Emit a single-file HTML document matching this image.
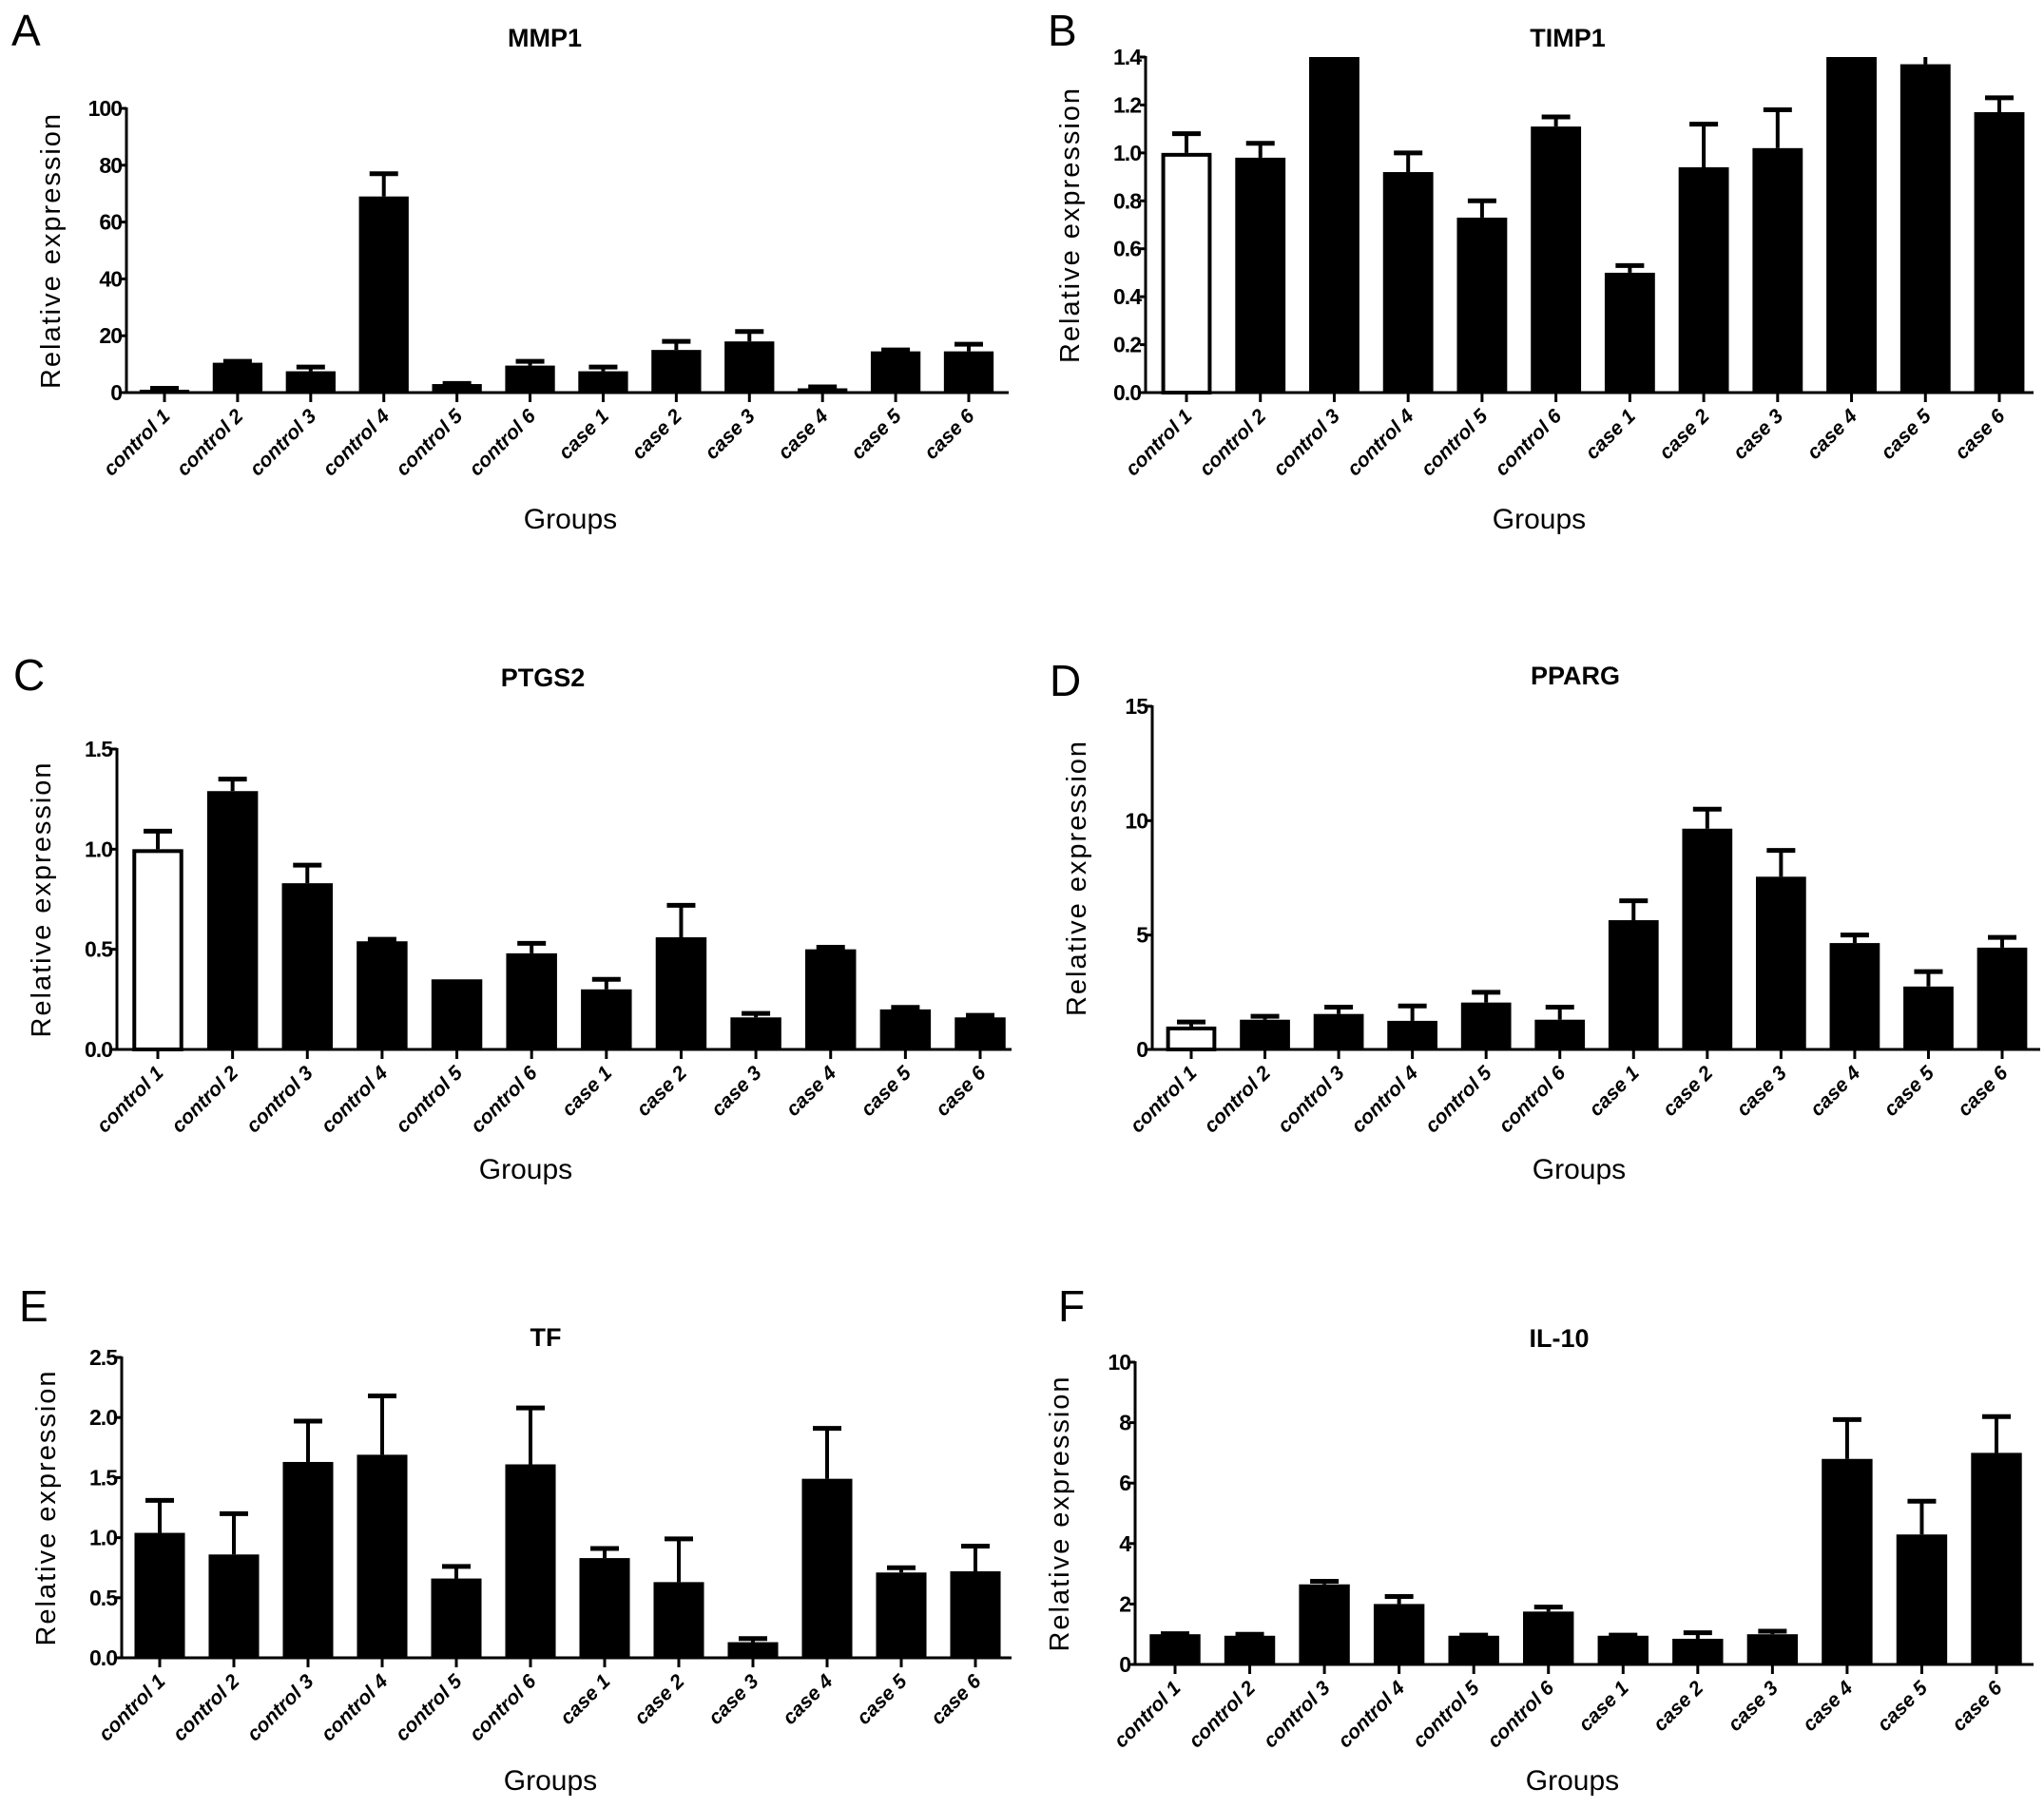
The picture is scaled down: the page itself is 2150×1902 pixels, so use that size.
<!DOCTYPE html>
<html><head><meta charset="utf-8"><style>
html,body{margin:0;padding:0;background:#fff;}
svg{display:block;}
text{font-family:"Liberation Sans",Arial,sans-serif;fill:#000;}
</style></head><body>
<svg id="fig" width="2150" height="1902" viewBox="0 0 2150 1902" xmlns="http://www.w3.org/2000/svg"></svg>
<script>
const categories = ["control 1","control 2","control 3","control 4","control 5","control 6","case 1","case 2","case 3","case 4","case 5","case 6"];

const mmp1Values = [1, 10.5, 7.5, 69, 3, 9.5, 7.5, 15, 18, 1.5, 14.5, 14.5];
const mmp1ErrTop = [1.5, 11, 9, 77, 3.2, 11, 9, 18, 21.5, 2, 15, 17];
const mmp1Ticks = [0, 20, 40, 60, 80, 100];
const mmp1TickLabels = ["0","20","40","60","80","100"];

const timp1Values = [1.0, 0.98, 1.6, 0.92, 0.73, 1.11, 0.50, 0.94, 1.02, 1.6, 1.37, 1.17];
const timp1ErrTop = [1.08, 1.04, 1.6, 1.0, 0.80, 1.15, 0.53, 1.12, 1.18, 1.6, 1.42, 1.23];
const timp1Ticks = [0, 0.2, 0.4, 0.6, 0.8, 1.0, 1.2, 1.4];
const timp1TickLabels = ["0.0","0.2","0.4","0.6","0.8","1.0","1.2","1.4"];

const ptgs2Values = [1.0, 1.29, 0.83, 0.54, 0.35, 0.48, 0.30, 0.56, 0.16, 0.50, 0.20, 0.16];
const ptgs2ErrTop = [1.09, 1.35, 0.92, 0.55, 0.35, 0.53, 0.35, 0.72, 0.18, 0.51, 0.21, 0.17];
const ptgs2Ticks = [0, 0.5, 1.0, 1.5];
const ptgs2TickLabels = ["0.0","0.5","1.0","1.5"];

const ppargValues = [1.0, 1.3, 1.55, 1.25, 2.05, 1.3, 5.65, 9.65, 7.55, 4.65, 2.75, 4.45];
const ppargErrTop = [1.2, 1.45, 1.85, 1.9, 2.5, 1.85, 6.5, 10.5, 8.7, 5.0, 3.4, 4.9];
const ppargTicks = [0, 5, 10, 15];
const ppargTickLabels = ["0","5","10","15"];

const tfValues = [1.04, 0.86, 1.63, 1.69, 0.66, 1.61, 0.83, 0.63, 0.13, 1.49, 0.71, 0.72];
const tfErrTop = [1.31, 1.20, 1.97, 2.18, 0.76, 2.08, 0.91, 0.99, 0.16, 1.91, 0.75, 0.93];
const tfTicks = [0, 0.5, 1.0, 1.5, 2.0, 2.5];
const tfTickLabels = ["0.0","0.5","1.0","1.5","2.0","2.5"];

const il10Values = [1.0, 0.95, 2.65, 2.0, 0.95, 1.75, 0.95, 0.85, 1.0, 6.8, 4.3, 7.0];
const il10ErrTop = [1.02, 1.0, 2.75, 2.25, 0.97, 1.9, 0.97, 1.05, 1.1, 8.1, 5.4, 8.2];
const il10Ticks = [0, 2, 4, 6, 8, 10];
const il10TickLabels = ["0","2","4","6","8","10"];

const NS = "http://www.w3.org/2000/svg";
const svg = document.getElementById("fig");
function mk(tag, attrs, parent){ const e=document.createElementNS(NS,tag); for(const k in attrs) e.setAttribute(k,attrs[k]); (parent||svg).appendChild(e); return e; }

const panels = [
 {key:"mmp1",letter:"A",lx:12,ly:48,title:"MMP1",tx:573,ty:49,ax:133,y0:413,yTop:114,ymax:100,x1:173,xn:1019,xend:1061,gx:600,gy:556,vals:mmp1Values,errs:mmp1ErrTop,ticks:mmp1Ticks,tl:mmp1TickLabels,white:false},
 {key:"timp1",letter:"B",lx:1102,ly:48,title:"TIMP1",tx:1649,ty:49,ax:1205,y0:413,yTop:60,ymax:1.4,x1:1248,xn:2103,xend:2139,gx:1619,gy:556,vals:timp1Values,errs:timp1ErrTop,ticks:timp1Ticks,tl:timp1TickLabels,white:true},
 {key:"ptgs2",letter:"C",lx:14,ly:726,title:"PTGS2",tx:571,ty:722,ax:123,y0:1104,yTop:788,ymax:1.5,x1:166,xn:1031,xend:1064,gx:553,gy:1240,vals:ptgs2Values,errs:ptgs2ErrTop,ticks:ptgs2Ticks,tl:ptgs2TickLabels,white:true},
 {key:"pparg",letter:"D",lx:1104,ly:732,title:"PPARG",tx:1657,ty:720,ax:1212,y0:1104,yTop:743,ymax:15,x1:1253,xn:2106,xend:2146,gx:1661,gy:1240,vals:ppargValues,errs:ppargErrTop,ticks:ppargTicks,tl:ppargTickLabels,white:true},
 {key:"tf",letter:"E",lx:20,ly:1390,title:"TF",tx:574,ty:1416,ax:128,y0:1744,yTop:1428,ymax:2.5,x1:168,xn:1026,xend:1064,gx:579,gy:1883,vals:tfValues,errs:tfErrTop,ticks:tfTicks,tl:tfTickLabels,white:false},
 {key:"il10",letter:"F",lx:1113,ly:1390,title:"IL-10",tx:1640,ty:1417,ax:1194,y0:1751,yTop:1433,ymax:10,x1:1236,xn:2100,xend:2139,gx:1654,gy:1883,vals:il10Values,errs:il10ErrTop,ticks:il10Ticks,tl:il10TickLabels,white:false}
];

panels.forEach((p,pi)=>{
  const g = mk("g",{});
  
  
  const yS = v => p.y0 - (v/p.ymax)*(p.y0-p.yTop);
  const step = (p.xn-p.x1)/(categories.length-1);
  const xS = i => p.x1 + i*step;
  const bw = step*0.68;
  const clipId = "clip"+pi;
  const cp = mk("clipPath",{id:clipId},g);
  mk("rect",{x:p.ax,y:p.yTop,width:p.xend-p.ax+10,height:p.y0-p.yTop+5},cp);

  const L = mk("text",{x:p.lx,y:p.ly,"font-size":46},g); L.textContent=p.letter;
  
  
  const T = mk("text",{x:p.tx,y:p.ty,"font-size":27,"font-weight":"bold","text-anchor":"middle"},g); T.textContent=p.title;
  
  

  const bars = mk("g",{"clip-path":"url(#"+clipId+")"},g);
  p.vals.forEach((v,i)=>{
    const cx = xS(i);
    const top = yS(v), et = yS(p.errs[i]);
    if (p.errs[i] > v) {
      const el = mk("line",{x1:cx,y1:top,x2:cx,y2:et,stroke:"#000","stroke-width":4},bars);
      
      
      const cap = mk("line",{x1:cx-15,y1:et,x2:cx+15,y2:et,stroke:"#000","stroke-width":5},bars);
      
      
    }
    const white = p.white && i===0;
    const r = mk("rect",{x:cx-bw/2+(white?2:0),y:top+(white?2:0),width:bw-(white?4:0),height:Math.max(0,p.y0-top-(white?2:0)),fill:white?"#fff":"#000",stroke:"#000","stroke-width":white?4:0},bars);
    
    
  });

  const ya = mk("line",{x1:p.ax,y1:p.yTop-1,x2:p.ax,y2:p.y0+1,stroke:"#000","stroke-width":3},g);
  
  
  const xa = mk("line",{x1:p.ax,y1:p.y0,x2:p.xend,y2:p.y0,stroke:"#000","stroke-width":3},g);
  
  

  p.ticks.forEach((t,k)=>{
    const y = yS(t);
    mk("line",{x1:p.ax-6,y1:y,x2:p.ax,y2:y,stroke:"#000","stroke-width":3},g);
    const tt = mk("text",{x:p.ax-5,y:y+8,"font-size":23,"font-weight":"bold","text-anchor":"end","letter-spacing":"-1"},g);
    tt.textContent = p.tl[k];
    
    
  });
  categories.forEach((c,i)=>{
    const x = xS(i);
    mk("line",{x1:x,y1:p.y0,x2:x,y2:p.y0+10,stroke:"#000","stroke-width":3},g);
    const lx = x+7, ly = p.y0+26;
    const tt = mk("text",{x:lx,y:ly,"font-size":21,"font-weight":"bold","font-style":"italic","text-anchor":"end",transform:`rotate(-45 ${lx} ${ly})`},g);
    tt.textContent = c;
    
    
  });
  const yc = (p.yTop+p.y0)/2;
  const yt = mk("text",{x:p.ax-70,y:yc,"font-size":29,"text-anchor":"middle","letter-spacing":"2",transform:`rotate(-90 ${p.ax-70} ${yc})`},g);
  yt.textContent = "Relative expression";
  
  
  const gt = mk("text",{x:p.gx,y:p.gy,"font-size":30,"text-anchor":"middle"},g);
  gt.textContent = "Groups";
  
  
});
</script>
</body></html>
